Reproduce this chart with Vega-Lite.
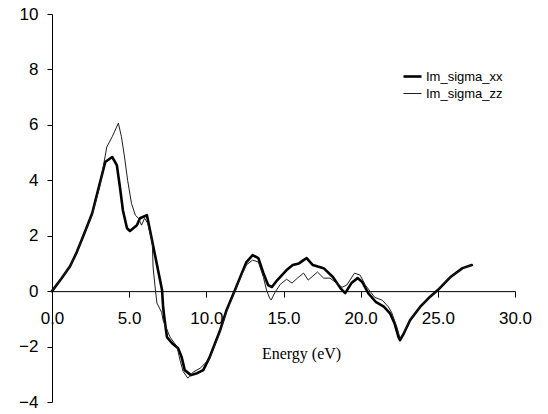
{
  "$schema": "https://vega.github.io/schema/vega-lite/v6.json",
  "width": 463,
  "height": 388,
  "autosize": "none",
  "padding": {"left": 52, "top": 14, "right": 33, "bottom": 12},
  "background": "white",
  "config": {
    "view": {"stroke": null},
    "axis": {
      "grid": false,
      "domainColor": "black",
      "tickColor": "black",
      "labelColor": "black",
      "labelFont": "Liberation Sans",
      "labelFontSize": 17,
      "titleColor": "black"
    }
  },
  "data": {
    "values": [
      {"series": "Im_sigma_xx", "energy": 0, "sigma": 0},
      {"series": "Im_sigma_xx", "energy": 0.6, "sigma": 0.45},
      {"series": "Im_sigma_xx", "energy": 1.17, "sigma": 0.9},
      {"series": "Im_sigma_xx", "energy": 1.6, "sigma": 1.4},
      {"series": "Im_sigma_xx", "energy": 2.0, "sigma": 1.95},
      {"series": "Im_sigma_xx", "energy": 2.6, "sigma": 2.8},
      {"series": "Im_sigma_xx", "energy": 3.1, "sigma": 3.9},
      {"series": "Im_sigma_xx", "energy": 3.45, "sigma": 4.66},
      {"series": "Im_sigma_xx", "energy": 3.9, "sigma": 4.84},
      {"series": "Im_sigma_xx", "energy": 4.2, "sigma": 4.55},
      {"series": "Im_sigma_xx", "energy": 4.4, "sigma": 3.76},
      {"series": "Im_sigma_xx", "energy": 4.6, "sigma": 2.9},
      {"series": "Im_sigma_xx", "energy": 4.86, "sigma": 2.27},
      {"series": "Im_sigma_xx", "energy": 5.05, "sigma": 2.17},
      {"series": "Im_sigma_xx", "energy": 5.5, "sigma": 2.38},
      {"series": "Im_sigma_xx", "energy": 5.7, "sigma": 2.63},
      {"series": "Im_sigma_xx", "energy": 6.15, "sigma": 2.74},
      {"series": "Im_sigma_xx", "energy": 6.35, "sigma": 2.2},
      {"series": "Im_sigma_xx", "energy": 6.7, "sigma": 1.23},
      {"series": "Im_sigma_xx", "energy": 7.0, "sigma": 0.4},
      {"series": "Im_sigma_xx", "energy": 7.13, "sigma": 0.04},
      {"series": "Im_sigma_xx", "energy": 7.2, "sigma": -0.58},
      {"series": "Im_sigma_xx", "energy": 7.3, "sigma": -1.05},
      {"series": "Im_sigma_xx", "energy": 7.45, "sigma": -1.66},
      {"series": "Im_sigma_xx", "energy": 7.78, "sigma": -1.88},
      {"series": "Im_sigma_xx", "energy": 8.17, "sigma": -2.06},
      {"series": "Im_sigma_xx", "energy": 8.4, "sigma": -2.38},
      {"series": "Im_sigma_xx", "energy": 8.6, "sigma": -2.85},
      {"series": "Im_sigma_xx", "energy": 9.0, "sigma": -3.03},
      {"series": "Im_sigma_xx", "energy": 9.4, "sigma": -2.96},
      {"series": "Im_sigma_xx", "energy": 9.8, "sigma": -2.85},
      {"series": "Im_sigma_xx", "energy": 10.2, "sigma": -2.4},
      {"series": "Im_sigma_xx", "energy": 10.9, "sigma": -1.4},
      {"series": "Im_sigma_xx", "energy": 11.3, "sigma": -0.7},
      {"series": "Im_sigma_xx", "energy": 11.85, "sigma": 0.03},
      {"series": "Im_sigma_xx", "energy": 12.3, "sigma": 0.65},
      {"series": "Im_sigma_xx", "energy": 12.6, "sigma": 1.05},
      {"series": "Im_sigma_xx", "energy": 13.0, "sigma": 1.3},
      {"series": "Im_sigma_xx", "energy": 13.37, "sigma": 1.19},
      {"series": "Im_sigma_xx", "energy": 13.7, "sigma": 0.65},
      {"series": "Im_sigma_xx", "energy": 14.0, "sigma": 0.22},
      {"series": "Im_sigma_xx", "energy": 14.25, "sigma": 0.15},
      {"series": "Im_sigma_xx", "energy": 14.6, "sigma": 0.4},
      {"series": "Im_sigma_xx", "energy": 15.2, "sigma": 0.76},
      {"series": "Im_sigma_xx", "energy": 15.6, "sigma": 0.94},
      {"series": "Im_sigma_xx", "energy": 16.0, "sigma": 1.0},
      {"series": "Im_sigma_xx", "energy": 16.3, "sigma": 1.12},
      {"series": "Im_sigma_xx", "energy": 16.5, "sigma": 1.19},
      {"series": "Im_sigma_xx", "energy": 16.9, "sigma": 0.94},
      {"series": "Im_sigma_xx", "energy": 17.6, "sigma": 0.83},
      {"series": "Im_sigma_xx", "energy": 18.2, "sigma": 0.51},
      {"series": "Im_sigma_xx", "energy": 18.7, "sigma": 0.1},
      {"series": "Im_sigma_xx", "energy": 19.0, "sigma": -0.07},
      {"series": "Im_sigma_xx", "energy": 19.4, "sigma": 0.29},
      {"series": "Im_sigma_xx", "energy": 19.8, "sigma": 0.47},
      {"series": "Im_sigma_xx", "energy": 20.1, "sigma": 0.33},
      {"series": "Im_sigma_xx", "energy": 20.5, "sigma": -0.08},
      {"series": "Im_sigma_xx", "energy": 21.0, "sigma": -0.4},
      {"series": "Im_sigma_xx", "energy": 21.5, "sigma": -0.56},
      {"series": "Im_sigma_xx", "energy": 21.9, "sigma": -0.8},
      {"series": "Im_sigma_xx", "energy": 22.2, "sigma": -1.17},
      {"series": "Im_sigma_xx", "energy": 22.45, "sigma": -1.65},
      {"series": "Im_sigma_xx", "energy": 22.55, "sigma": -1.77},
      {"series": "Im_sigma_xx", "energy": 22.8, "sigma": -1.52},
      {"series": "Im_sigma_xx", "energy": 23.2, "sigma": -1.05},
      {"series": "Im_sigma_xx", "energy": 23.85, "sigma": -0.57},
      {"series": "Im_sigma_xx", "energy": 24.5, "sigma": -0.2},
      {"series": "Im_sigma_xx", "energy": 25.0, "sigma": 0.04},
      {"series": "Im_sigma_xx", "energy": 25.8, "sigma": 0.5},
      {"series": "Im_sigma_xx", "energy": 26.6, "sigma": 0.83},
      {"series": "Im_sigma_xx", "energy": 27.2, "sigma": 0.94},

      {"series": "Im_sigma_zz", "energy": 0, "sigma": 0},
      {"series": "Im_sigma_zz", "energy": 0.6, "sigma": 0.45},
      {"series": "Im_sigma_zz", "energy": 1.17, "sigma": 0.9},
      {"series": "Im_sigma_zz", "energy": 1.6, "sigma": 1.4},
      {"series": "Im_sigma_zz", "energy": 2.0, "sigma": 1.95},
      {"series": "Im_sigma_zz", "energy": 2.6, "sigma": 2.75},
      {"series": "Im_sigma_zz", "energy": 3.1, "sigma": 3.8},
      {"series": "Im_sigma_zz", "energy": 3.55, "sigma": 5.2},
      {"series": "Im_sigma_zz", "energy": 3.9, "sigma": 5.57},
      {"series": "Im_sigma_zz", "energy": 4.3, "sigma": 6.06},
      {"series": "Im_sigma_zz", "energy": 4.5, "sigma": 5.57},
      {"series": "Im_sigma_zz", "energy": 4.7, "sigma": 4.84},
      {"series": "Im_sigma_zz", "energy": 4.9, "sigma": 4.0},
      {"series": "Im_sigma_zz", "energy": 5.15, "sigma": 3.17},
      {"series": "Im_sigma_zz", "energy": 5.4, "sigma": 2.74},
      {"series": "Im_sigma_zz", "energy": 5.6, "sigma": 2.63},
      {"series": "Im_sigma_zz", "energy": 5.8, "sigma": 2.38},
      {"series": "Im_sigma_zz", "energy": 6.0, "sigma": 2.63},
      {"series": "Im_sigma_zz", "energy": 6.2, "sigma": 2.45},
      {"series": "Im_sigma_zz", "energy": 6.5, "sigma": 1.73},
      {"series": "Im_sigma_zz", "energy": 6.55, "sigma": 0.87},
      {"series": "Im_sigma_zz", "energy": 6.7, "sigma": 0.04},
      {"series": "Im_sigma_zz", "energy": 6.8, "sigma": -0.43},
      {"series": "Im_sigma_zz", "energy": 7.1, "sigma": -0.76},
      {"series": "Im_sigma_zz", "energy": 7.2, "sigma": -1.05},
      {"series": "Im_sigma_zz", "energy": 7.65, "sigma": -1.66},
      {"series": "Im_sigma_zz", "energy": 8.1, "sigma": -2.0},
      {"series": "Im_sigma_zz", "energy": 8.3, "sigma": -2.5},
      {"series": "Im_sigma_zz", "energy": 8.5, "sigma": -2.9},
      {"series": "Im_sigma_zz", "energy": 8.8, "sigma": -3.14},
      {"series": "Im_sigma_zz", "energy": 9.15, "sigma": -2.92},
      {"series": "Im_sigma_zz", "energy": 9.6, "sigma": -2.78},
      {"series": "Im_sigma_zz", "energy": 10.2, "sigma": -2.45},
      {"series": "Im_sigma_zz", "energy": 10.9, "sigma": -1.45},
      {"series": "Im_sigma_zz", "energy": 11.3, "sigma": -0.75},
      {"series": "Im_sigma_zz", "energy": 11.85, "sigma": 0.0},
      {"series": "Im_sigma_zz", "energy": 12.3, "sigma": 0.6},
      {"series": "Im_sigma_zz", "energy": 12.6, "sigma": 0.95},
      {"series": "Im_sigma_zz", "energy": 13.0, "sigma": 1.12},
      {"series": "Im_sigma_zz", "energy": 13.37, "sigma": 1.05},
      {"series": "Im_sigma_zz", "energy": 13.7, "sigma": 0.5},
      {"series": "Im_sigma_zz", "energy": 13.9, "sigma": 0.04},
      {"series": "Im_sigma_zz", "energy": 14.1, "sigma": -0.25},
      {"series": "Im_sigma_zz", "energy": 14.2, "sigma": -0.32},
      {"series": "Im_sigma_zz", "energy": 14.45, "sigma": -0.04},
      {"series": "Im_sigma_zz", "energy": 14.8, "sigma": 0.25},
      {"series": "Im_sigma_zz", "energy": 15.2, "sigma": 0.43},
      {"series": "Im_sigma_zz", "energy": 15.55, "sigma": 0.29},
      {"series": "Im_sigma_zz", "energy": 15.9, "sigma": 0.47},
      {"series": "Im_sigma_zz", "energy": 16.3, "sigma": 0.65},
      {"series": "Im_sigma_zz", "energy": 16.6, "sigma": 0.4},
      {"series": "Im_sigma_zz", "energy": 17.2, "sigma": 0.69},
      {"series": "Im_sigma_zz", "energy": 17.6, "sigma": 0.47},
      {"series": "Im_sigma_zz", "energy": 18.0, "sigma": 0.47},
      {"series": "Im_sigma_zz", "energy": 18.35, "sigma": 0.33},
      {"series": "Im_sigma_zz", "energy": 18.8, "sigma": 0.14},
      {"series": "Im_sigma_zz", "energy": 19.1, "sigma": 0.22},
      {"series": "Im_sigma_zz", "energy": 19.6, "sigma": 0.65},
      {"series": "Im_sigma_zz", "energy": 19.96, "sigma": 0.58},
      {"series": "Im_sigma_zz", "energy": 20.3, "sigma": 0.22},
      {"series": "Im_sigma_zz", "energy": 20.7, "sigma": -0.07},
      {"series": "Im_sigma_zz", "energy": 20.9, "sigma": -0.22},
      {"series": "Im_sigma_zz", "energy": 21.4, "sigma": -0.33},
      {"series": "Im_sigma_zz", "energy": 21.8, "sigma": -0.57},
      {"series": "Im_sigma_zz", "energy": 22.0, "sigma": -0.76},
      {"series": "Im_sigma_zz", "energy": 22.35, "sigma": -1.3},
      {"series": "Im_sigma_zz", "energy": 22.55, "sigma": -1.7},
      {"series": "Im_sigma_zz", "energy": 22.8, "sigma": -1.5},
      {"series": "Im_sigma_zz", "energy": 23.2, "sigma": -1.05},
      {"series": "Im_sigma_zz", "energy": 23.85, "sigma": -0.57},
      {"series": "Im_sigma_zz", "energy": 24.5, "sigma": -0.2},
      {"series": "Im_sigma_zz", "energy": 25.0, "sigma": 0.04},
      {"series": "Im_sigma_zz", "energy": 25.8, "sigma": 0.5},
      {"series": "Im_sigma_zz", "energy": 26.6, "sigma": 0.83},
      {"series": "Im_sigma_zz", "energy": 27.2, "sigma": 0.94}
    ]
  },
  "mark": {"type": "line", "interpolate": "linear", "strokeJoin": "round", "strokeCap": "round"},
  "encoding": {
    "x": {
      "field": "energy",
      "type": "quantitative",
      "scale": {"domain": [0, 30], "nice": false, "zero": false},
      "axis": {
        "title": "Energy (eV)",
        "titleFont": "Liberation Serif",
        "titleFontSize": 16,
        "titleFontWeight": "normal",
        "titleX": 249,
        "titleY": 62,
        "titleBaseline": "middle",
        "titleAnchor": null,
        "values": [0, 5, 10, 15, 20, 25, 30],
        "format": ".1f",
        "offset": -110.86,
        "tickSize": 6,
        "labelPadding": 13,
        "labelFlush": false,
        "labelOverlap": false
      }
    },
    "y": {
      "field": "sigma",
      "type": "quantitative",
      "scale": {"domain": [-4, 10], "nice": false, "zero": false},
      "axis": {
        "title": null,
        "values": [-4, -2, 0, 2, 4, 6, 8, 10],
        "tickSize": 5,
        "labelPadding": 9,
        "labelFlush": false,
        "labelOverlap": false
      }
    },
    "color": {
      "field": "series",
      "type": "nominal",
      "scale": {"domain": ["Im_sigma_xx", "Im_sigma_zz"], "range": ["#000000", "#1e1e1e"]},
      "legend": {
        "title": null,
        "orient": "none",
        "legendX": 350,
        "legendY": 52,
        "symbolType": "stroke",
        "symbolSize": 324,
        "labelFont": "Liberation Sans",
        "labelFontSize": 13,
        "labelColor": "black",
        "labelOffset": 3,
        "rowPadding": 0,
        "padding": 0
      }
    },
    "strokeWidth": {
      "field": "series",
      "type": "nominal",
      "scale": {"domain": ["Im_sigma_xx", "Im_sigma_zz"], "range": [2.6, 1.0]},
      "legend": {
        "title": null,
        "orient": "none",
        "legendX": 350,
        "legendY": 52,
        "symbolType": "stroke",
        "symbolSize": 324,
        "labelFont": "Liberation Sans",
        "labelFontSize": 13,
        "labelColor": "black",
        "labelOffset": 3,
        "rowPadding": 0,
        "padding": 0
      }
    }
  }
}
